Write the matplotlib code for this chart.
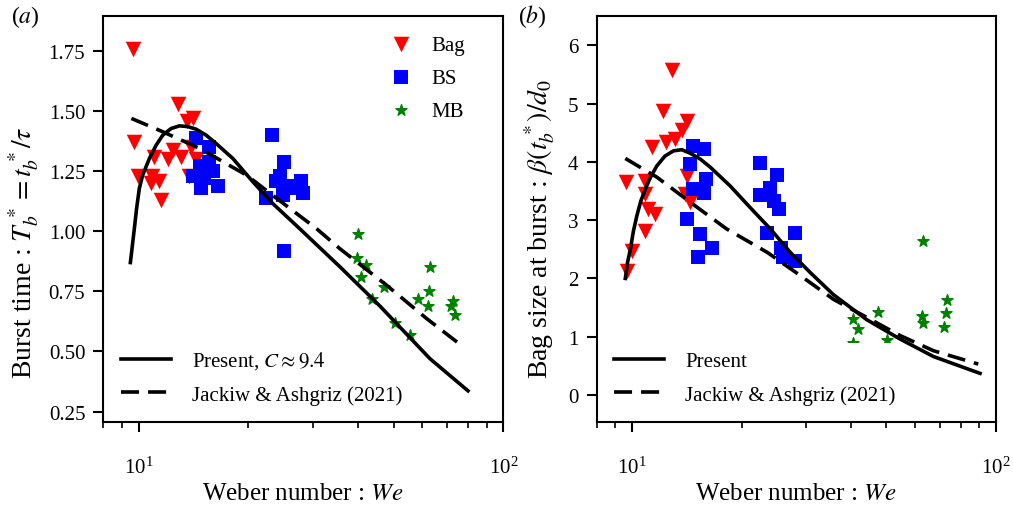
import matplotlib
matplotlib.use("Agg")
import matplotlib.pyplot as plt
from matplotlib.ticker import LogLocator, NullFormatter
import numpy as np

plt.rcParams['font.family'] = ['Liberation Serif', 'DejaVu Serif']
plt.rcParams['mathtext.fontset'] = 'stix'
plt.rcParams['font.size'] = 15

# ---- panel (a): burst time ----
bag_we_a = [9.63, 12.85, 14.1, 13.55, 9.69, 12.4, 13.06, 11.04, 12.0, 13.9, 14.4,
            9.94, 10.9, 11.35, 10.8, 11.5, 13.7]
bag_t_a = [1.76, 1.53, 1.47, 1.46, 1.37, 1.34, 1.31, 1.31, 1.30, 1.35, 1.30,
           1.23, 1.23, 1.21, 1.20, 1.13, 1.23]
bs_we_a = [14.38, 15.6, 15.6, 14.7, 15.96, 14.06, 14.84, 16.5, 15.1,
           23.2, 25.1, 24.4, 27.9, 26.0, 22.4, 24.9, 28.2, 25.0, 26.8, 23.8]
bs_t_a = [1.39, 1.35, 1.29, 1.27, 1.25, 1.23, 1.18, 1.19, 1.22,
          1.40, 1.29, 1.23, 1.21, 1.19, 1.14, 1.15, 1.16, 0.92, 1.18, 1.21]
mb_we_a = [40.0, 39.7, 42.0, 40.7, 43.6, 47.2, 50.5, 55.5, 63.0, 58.2, 62.6,
           62.3, 72.8, 72.0, 73.5]
mb_t_a = [0.99, 0.89, 0.86, 0.81, 0.72, 0.77, 0.62, 0.57, 0.85, 0.72, 0.75,
          0.69, 0.71, 0.69, 0.65]

present_we_a = [9.49, 9.73, 9.87, 10.04, 10.25, 10.70, 11.16, 11.64, 12.27,
                12.94, 13.63, 14.38, 15.32, 16.32, 18.13, 20.57, 23.34, 27.64,
                35.6, 45.8, 62.9, 80.0]
present_t_a = [0.870, 1.011, 1.095, 1.178, 1.233, 1.303, 1.358, 1.400, 1.428,
               1.439, 1.436, 1.425, 1.400, 1.365, 1.303, 1.206, 1.115, 1.011,
               0.853, 0.690, 0.470, 0.336]
jackiw_we_a = [9.55, 11.66, 14.7, 19.8, 23.3, 30.8, 35.6, 47.9, 61.7, 77.8]
jackiw_t_a = [1.47, 1.414, 1.345, 1.233, 1.15, 1.01, 0.928, 0.775, 0.636, 0.518]

# ---- panel (b): bag size at burst ----
bag_we_b = [12.88, 12.16, 14.16, 13.71, 13.14, 12.42, 11.35, 9.64, 10.88, 10.88,
            11.1, 11.6, 10.88, 10.0, 9.69, 14.16, 14.0, 14.45]
bag_b_b = [5.57, 4.88, 4.71, 4.54, 4.39, 4.35, 4.25, 3.65, 3.68, 3.45,
           3.19, 3.10, 2.82, 2.47, 2.13, 3.76, 3.45, 3.31]
bs_we_b = [14.76, 15.73, 14.45, 16.0, 14.76, 15.73, 14.16, 15.4, 16.6, 15.2,
           22.5, 25.0, 24.0, 22.5, 24.6, 25.4, 23.5, 28.0, 25.6, 26.0, 28.0]
bs_b_b = [4.28, 4.22, 3.96, 3.71, 3.53, 3.47, 3.02, 2.76, 2.52, 2.36,
          3.99, 3.77, 3.55, 3.44, 3.33, 3.19, 2.78, 2.78, 2.53, 2.36, 2.30]
mb_we_b = [63.2, 73.3, 73.0, 72.0, 62.5, 63.2, 47.5, 40.6, 41.9, 40.4, 50.3]
mb_b_b = [2.65, 1.63, 1.40, 1.17, 1.35, 1.23, 1.42, 1.31, 1.13, 0.90, 0.95]

present_we_b = [9.59, 9.73, 9.90, 10.10, 10.32, 10.58, 10.88, 11.23, 11.70,
                12.32, 13.00, 13.70, 14.45, 15.40, 16.41, 18.6, 21.1, 24.0,
                27.2, 30.9, 35.8, 44.2, 54.5, 67.3, 90.4]
present_b_b = [2.00, 2.28, 2.50, 2.82, 3.08, 3.33, 3.53, 3.73, 3.93,
               4.10, 4.19, 4.21, 4.15, 4.05, 3.91, 3.59, 3.22, 2.85,
               2.45, 2.10, 1.72, 1.29, 0.96, 0.66, 0.37]
jackiw_we_b = [9.59, 11.7, 14.45, 18.2, 23.5, 29.0, 35.8, 44.2, 54.5, 67.3, 89.4]
jackiw_b_b = [4.06, 3.74, 3.31, 2.85, 2.45, 2.05, 1.64, 1.33, 1.02, 0.76, 0.53]

fig = plt.figure(figsize=(10.13, 5.06), dpi=100)
ax1 = fig.add_axes([0.102, 0.1634, 0.3949, 0.8024])
ax2 = fig.add_axes([0.589, 0.1634, 0.3942, 0.8024])

dash = (0, (5, 2.5))


def style_axis(ax):
    ax.set_xscale('log')
    ax.set_xlim(8, 100)
    ax.xaxis.set_major_locator(LogLocator(base=10))
    ax.xaxis.set_minor_locator(LogLocator(base=10, subs=np.arange(2, 10)))
    ax.xaxis.set_minor_formatter(NullFormatter())
    for s in ax.spines.values():
        s.set_linewidth(1.5)
    ax.tick_params(which='major', direction='out', length=7, width=1.5, pad=6)
    ax.tick_params(which='minor', direction='out', length=4, width=1.2)
    ax.tick_params(axis='x', which='major', pad=18)
    ax.set_xlabel('Weber number : $We$', fontsize=18, labelpad=3)


def line_legend(ax, handles):
    ax.legend(handles=handles, loc='lower left', handlelength=2.4,
              handletextpad=1.0, labelspacing=0.65, borderaxespad=0.45,
              facecolor='white', edgecolor='none', framealpha=1, fancybox=False)


# panel (a)
h1 = ax1.scatter(bag_we_a, bag_t_a, marker='v', s=125, c='red', lw=0, label='Bag')
h2 = ax1.scatter(bs_we_a, bs_t_a, marker='s', s=105, c='blue', lw=0, label='BS')
h3 = ax1.scatter(mb_we_a, mb_t_a, marker='*', s=70, c='green', edgecolors='green',
                 lw=1, label='MB')
l1, = ax1.plot(present_we_a, present_t_a, color='black', lw=2.6,
               label='Present, $C \\approx 9.4$')
l2, = ax1.plot(jackiw_we_a, jackiw_t_a, color='black', lw=2.6, ls=dash,
               label='Jackiw & Ashgriz (2021)')
style_axis(ax1)
ax1.set_ylim(0.205, 1.895)
ax1.set_yticks([0.25, 0.5, 0.75, 1.0, 1.25, 1.5, 1.75])
ax1.set_yticklabels(['0.25', '0.50', '0.75', '1.00', '1.25', '1.50', '1.75'])
ax1.set_ylabel('Burst time : $T_b^{\\,*} = t_b^{\\,*}/\\tau$', fontsize=20, ha='left')
ax1.yaxis.set_label_coords(-0.155, 0.11)

leg_m = ax1.legend(handles=[h1, h2, h3], loc='upper right', frameon=False,
                   handletextpad=0.45, labelspacing=0.65, borderaxespad=0.5,
                   bbox_to_anchor=(0.95, 1.0))
ax1.add_artist(leg_m)
line_legend(ax1, [l1, l2])

# panel (b)
ax2.scatter(bag_we_b, bag_b_b, marker='v', s=125, c='red', lw=0)
ax2.scatter(bs_we_b, bs_b_b, marker='s', s=105, c='blue', lw=0)
ax2.scatter(mb_we_b, mb_b_b, marker='*', s=70, c='green', edgecolors='green', lw=1)
p1, = ax2.plot(present_we_b, present_b_b, color='black', lw=2.6, label='Present')
p2, = ax2.plot(jackiw_we_b, jackiw_b_b, color='black', lw=2.6, ls=dash,
               label='Jackiw & Ashgriz (2021)')
style_axis(ax2)
ax2.set_ylim(-0.47, 6.5)
ax2.set_yticks([0, 1, 2, 3, 4, 5, 6])
ax2.set_ylabel('Bag size at burst : $\\beta(t_b^{\\,*})/d_0$', fontsize=20, ha='left')
ax2.yaxis.set_label_coords(-0.10, 0.11)
line_legend(ax2, [p1, p2])

fig.text(0.011, 0.955, '($a$)', fontsize=17)
fig.text(0.511, 0.955, '($b$)', fontsize=17)

fig.savefig('out.png', dpi=100)
